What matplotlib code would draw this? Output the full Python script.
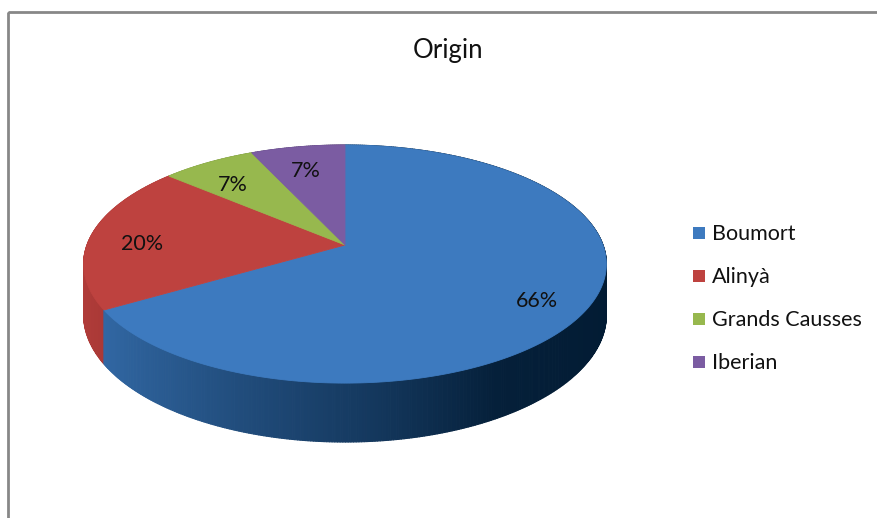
import numpy as np
import matplotlib
matplotlib.use("Agg")
import matplotlib.pyplot as plt
from matplotlib.collections import PolyCollection
from matplotlib.patches import Rectangle, Polygon

# data
origins = ["Boumort", "Alinyà", "Grands Causses", "Iberian"]
shares = [66.4, 20.0, 6.8, 6.8]
title = "Origin"

top_colors = ["#3d7abf", "#be423f", "#97b84e", "#7b5ca2"]
side_dark = ["#021b33", "#5a1414", "#3a4a18", "#2e2145"]

# pixel geometry of the tilted disc
CX, CY = 345.0, 245.0
A, B, K = 258.0, 116.0, 0.16
DEPTH = 49.5
LABEL_R = 0.8

plt.rcParams["font.family"] = ["Lato", "DejaVu Sans"]


def project(u, v, drop=0.0):
    w = 1 - K * v
    return CX + A * u / w, CY + (B * v + drop) / w


def rim(phi):
    # phi measured clockwise from 12 o'clock
    return np.sin(phi), -np.cos(phi)


def hex_rgb(h):
    return np.array(matplotlib.colors.to_rgb(h))


fig = plt.figure(figsize=(8.78, 5.18), dpi=100)
ax = fig.add_axes([0, 0, 1, 1])
ax.set_xlim(0, 878)
ax.set_ylim(518, 0)
ax.axis("off")

# chart border (right and bottom edges fall outside the picture)
ax.add_patch(Rectangle((8, 12), 900, 540, fill=False, ec="#878787", lw=2))

fractions = np.array(shares) / sum(shares)
bounds = np.concatenate([[0], np.cumsum(fractions)]) * 2 * np.pi

# side wall, drawn back to front
quads, qcolors, depth_key = [], [], []
stops_u = [-1.0, -0.3, 0.1, 0.5, 1.0]
stops_t = [0.12, 0.5, 0.7, 0.95, 1.0]
for i in range(len(shares)):
    phis = np.linspace(bounds[i], bounds[i + 1], max(int(fractions[i] * 720), 4))
    base = hex_rgb(top_colors[i])
    dark = hex_rgb(side_dark[i])
    for p0, p1 in zip(phis[:-1], phis[1:]):
        u0, v0 = rim(p0)
        u1, v1 = rim(p1)
        pts = [project(u0, v0), project(u1, v1),
               project(u1, v1, DEPTH), project(u0, v0, DEPTH)]
        um = (u0 + u1) / 2
        t = np.interp(um, stops_u, stops_t)
        quads.append(pts)
        qcolors.append((1 - t) * base + t * dark)
        depth_key.append((v0 + v1) / 2)
order = np.argsort(depth_key)
quads = [quads[j] for j in order]
qcolors = [qcolors[j] for j in order]
ax.add_collection(PolyCollection(quads, facecolors=qcolors, edgecolors=qcolors, linewidths=0.8))

# top faces and labels
for i in range(len(shares)):
    phis = np.linspace(bounds[i], bounds[i + 1], max(int(fractions[i] * 720), 4))
    u, v = rim(phis)
    xs, ys = project(u, v)
    pts = np.column_stack([np.r_[CX, xs], np.r_[CY, ys]])
    ax.add_patch(Polygon(pts, closed=True, fc=top_colors[i], ec=top_colors[i], lw=0.6))

    mid = (bounds[i] + bounds[i + 1]) / 2
    mu, mv = rim(mid)
    lx, ly = project(mu * LABEL_R, mv * LABEL_R)
    ax.text(lx, ly + 7, f"{round(shares[i])}%", fontsize=15.5, color="#111111",
            ha="center", va="center")

ax.text(448, 58, title, fontsize=18.5, ha="center", va="baseline", color="#111111")

# legend
for i, name in enumerate(origins):
    base_y = 240 + 43 * i
    ax.add_patch(Rectangle((693, base_y - 13), 12, 12, fc=top_colors[i], ec="none"))
    ax.text(712, base_y, name, fontsize=15.5, ha="left", va="baseline", color="#111111")

fig.savefig("out.png", dpi=100)
